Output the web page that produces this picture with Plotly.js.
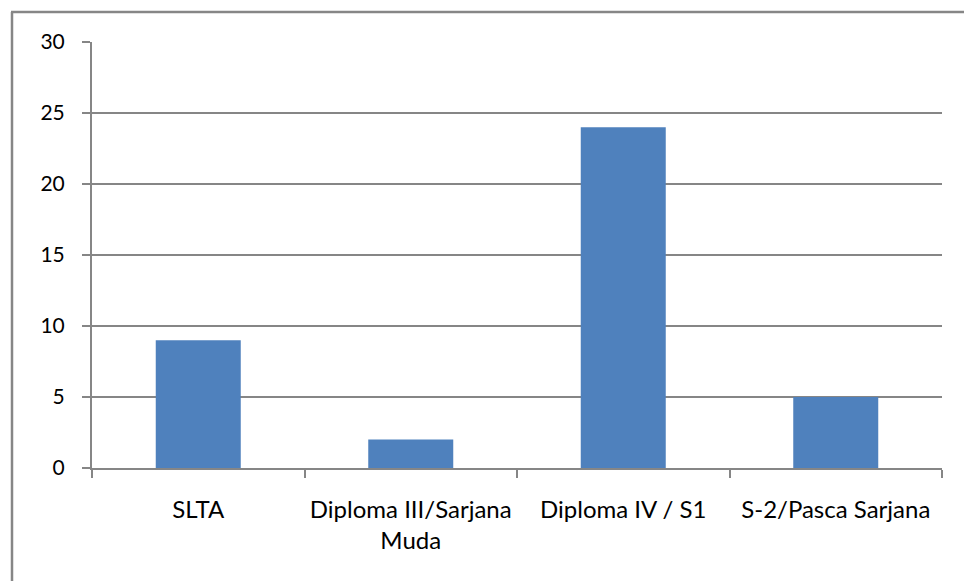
<!DOCTYPE html>
<html>
<head>
<meta charset="utf-8">
<script src="https://cdn.plot.ly/plotly-3.0.1.min.js"></script>
<style>
  html, body { margin: 0; padding: 0; background: #ffffff; }
  #chart { width: 964px; height: 581px; }
</style>
</head>
<body>
<div id="chart"></div>
<script>
const categories = ["SLTA", "Diploma III/Sarjana<br>Muda", "Diploma IV / S1", "S-2/Pasca Sarjana"];
const values = [9, 2, 24, 5];
const yTicks = [0, 5, 10, 15, 20, 25, 30];

const gridColor = "#868686";
const fontFamily = "Lato, 'Open Sans', sans-serif";
const xFont = { family: fontFamily, size: 24, color: "#000000" };
const yFont = { family: fontFamily, size: 21, color: "#000000" };

const trace = {
  type: "bar",
  x: categories,
  y: values,
  marker: { color: "#4F81BD", line: { width: 0 } },
  hoverinfo: "none"
};

const layout = {
  width: 964,
  height: 581,
  margin: { l: 92, r: 22, t: 42, b: 113 },
  paper_bgcolor: "#ffffff",
  plot_bgcolor: "#ffffff",
  showlegend: false,
  bargap: 0.6,
  font: xFont,
  xaxis: {
    type: "category",
    showline: true,
    linecolor: gridColor,
    linewidth: 2,
    ticks: "outside",
    tickson: "boundaries",
    ticklen: 8,
    tickwidth: 2,
    tickcolor: gridColor,
    showgrid: false,
    zeroline: false,
    ticklabelstandoff: 19,
    tickfont: xFont,
    fixedrange: true
  },
  yaxis: {
    range: [0, 30],
    tickvals: yTicks,
    ticktext: yTicks.map(String),
    showline: true,
    linecolor: gridColor,
    linewidth: 2,
    ticks: "outside",
    ticklen: 8,
    tickwidth: 2,
    tickcolor: gridColor,
    showgrid: true,
    gridcolor: gridColor,
    gridwidth: 1.5,
    zeroline: false,
    ticklabelstandoff: 13,
    tickfont: yFont,
    fixedrange: true
  },
  shapes: [
    {
      type: "line", xref: "paper", yref: "paper",
      x0: (12 - 92) / 850, x1: (12 - 92) / 850,
      y0: (468 - 12) / 426, y1: (468 - 600) / 426,
      line: { color: gridColor, width: 2.5 }
    },
    {
      type: "line", xref: "paper", yref: "paper",
      x0: (11 - 92) / 850, x1: (1000 - 92) / 850,
      y0: (468 - 12) / 426, y1: (468 - 12) / 426,
      line: { color: gridColor, width: 2.5 }
    }
  ]
};

Plotly.newPlot("chart", [trace], layout, { displayModeBar: false, staticPlot: true });
</script>
</body>
</html>
